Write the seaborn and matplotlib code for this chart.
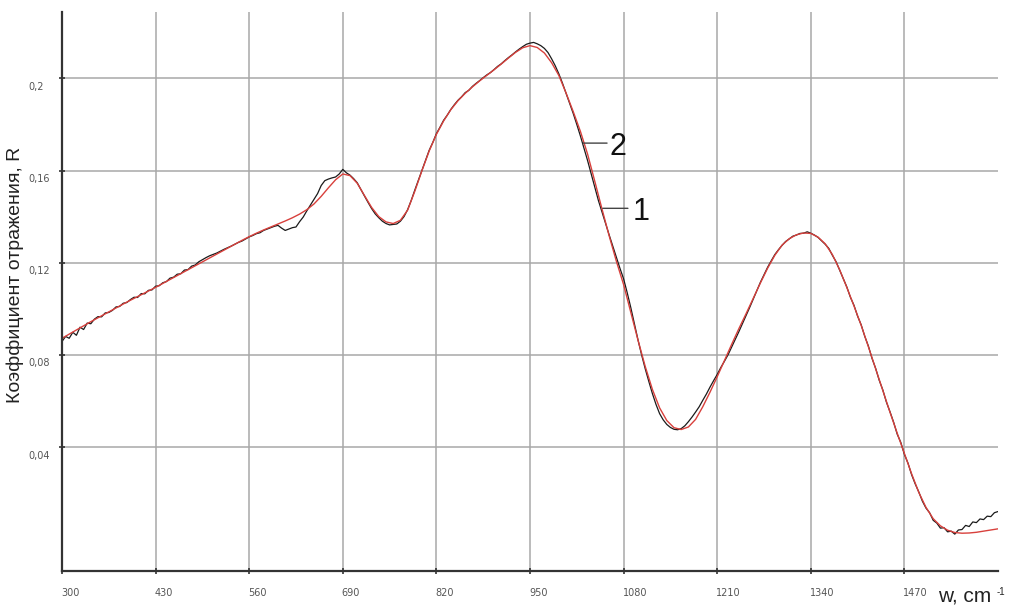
import matplotlib
matplotlib.use("Agg")
import matplotlib.pyplot as plt
import matplotlib.transforms as mtransforms
import pandas as pd
import seaborn as sns

# Calculated reflectance (curve 2), every 10 cm^-1 from 300 to 1600
wavenumber_fit = list(range(300, 1601, 10))
reflect_fit = [
    0.0872, 0.0890, 0.0908, 0.0926, 0.0944, 0.0961, 0.0978, 0.0995, 0.1012, 0.1029,
    0.1045, 0.1061, 0.1077, 0.1093, 0.1110, 0.1127, 0.1144, 0.1161, 0.1178, 0.1195,
    0.1212, 0.1229, 0.1246, 0.1263, 0.1280, 0.1297, 0.1313, 0.1328, 0.1342, 0.1355,
    0.1368, 0.1381, 0.1395, 0.1411, 0.1430, 0.1455, 0.1488, 0.1525, 0.1560, 0.1585,
    0.1578, 0.1545, 0.1492, 0.1440, 0.1400, 0.1377, 0.1370, 0.1384, 0.1428, 0.1510,
    0.1600, 0.1685, 0.1757, 0.1815, 0.1864, 0.1903, 0.1935, 0.1963, 0.1989, 0.2013,
    0.2037, 0.2062, 0.2088, 0.2113, 0.2133, 0.2142, 0.2134, 0.2110, 0.2068, 0.2013,
    0.1937, 0.1856, 0.1770, 0.1671, 0.1553, 0.1433, 0.1316, 0.1206, 0.1105, 0.0985,
    0.0864, 0.0750, 0.0650, 0.0570, 0.0515, 0.0484, 0.0476, 0.0487, 0.0520, 0.0575,
    0.0638, 0.0705, 0.0775, 0.0845, 0.0913, 0.0978, 0.1045, 0.1112, 0.1176, 0.1232,
    0.1276, 0.1304, 0.1321, 0.1329, 0.1327, 0.1311, 0.1282, 0.1235, 0.1170, 0.1093,
    0.1012, 0.0928, 0.0835, 0.0740, 0.0645, 0.0551, 0.0460, 0.0372, 0.0284, 0.0203,
    0.0138, 0.0089, 0.0058, 0.0039, 0.0029, 0.0026, 0.0027, 0.0030, 0.0035, 0.0040,
    0.0045,
]

# Measured reflectance (curve 1), every 5 cm^-1 from 300 to 1600
wavenumber_exp = list(range(300, 1601, 5))
reflect_exp = [
    0.0858, 0.0880, 0.0872, 0.0898, 0.0885, 0.0920, 0.0910, 0.0938, 0.0935, 0.0955,
    0.0966, 0.0965, 0.0982, 0.0984, 0.0993, 0.1008, 0.1010, 0.1024, 0.1027, 0.1040,
    0.1050, 0.1049, 0.1066, 0.1065, 0.1080, 0.1082, 0.1098, 0.1100, 0.1113, 0.1118,
    0.1133, 0.1137, 0.1150, 0.1152, 0.1168, 0.1170, 0.1185, 0.1190, 0.1204, 0.1213,
    0.1222, 0.1230, 0.1236, 0.1242, 0.1250, 0.1258, 0.1265, 0.1272, 0.1280, 0.1288,
    0.1294, 0.1303, 0.1312, 0.1318, 0.1326, 0.1330, 0.1340, 0.1346, 0.1352, 0.1358,
    0.1362, 0.1350, 0.1340, 0.1346, 0.1352, 0.1355, 0.1378, 0.1398, 0.1425, 0.1450,
    0.1475, 0.1500, 0.1535, 0.1556, 0.1563, 0.1568, 0.1572, 0.1585, 0.1605, 0.1590,
    0.1580, 0.1565, 0.1547, 0.1518, 0.1490, 0.1462, 0.1435, 0.1412, 0.1395, 0.1380,
    0.1370, 0.1364, 0.1366, 0.1368, 0.1380, 0.1400, 0.1430, 0.1470, 0.1515, 0.1558,
    0.1602, 0.1645, 0.1688, 0.1722, 0.1760, 0.1788, 0.1818, 0.1840, 0.1865, 0.1886,
    0.1905, 0.1920, 0.1938, 0.1948, 0.1965, 0.1978, 0.1990, 0.2003, 0.2015, 0.2025,
    0.2038, 0.2052, 0.2063, 0.2077, 0.2090, 0.2102, 0.2115, 0.2127, 0.2138, 0.2148,
    0.2153, 0.2156, 0.2150, 0.2142, 0.2130, 0.2112, 0.2085, 0.2055, 0.2020, 0.1980,
    0.1936, 0.1893, 0.1848, 0.1800, 0.1750, 0.1697, 0.1643, 0.1585, 0.1527, 0.1470,
    0.1420, 0.1370, 0.1320, 0.1272, 0.1225, 0.1175, 0.1130, 0.1070, 0.1005, 0.0935,
    0.0865, 0.0800, 0.0740, 0.0685, 0.0632, 0.0585, 0.0545, 0.0518, 0.0498, 0.0485,
    0.0477, 0.0475, 0.0480, 0.0492, 0.0510, 0.0530, 0.0552, 0.0575, 0.0603, 0.0630,
    0.0660, 0.0688, 0.0715, 0.0745, 0.0772, 0.0800, 0.0833, 0.0865, 0.0900, 0.0935,
    0.0970, 0.1005, 0.1042, 0.1080, 0.1115, 0.1148, 0.1180, 0.1208, 0.1235, 0.1256,
    0.1275, 0.1292, 0.1303, 0.1315, 0.1320, 0.1327, 0.1328, 0.1334, 0.1328, 0.1320,
    0.1310, 0.1295, 0.1280, 0.1262, 0.1232, 0.1205, 0.1168, 0.1130, 0.1095, 0.1050,
    0.1015, 0.0968, 0.0930, 0.0880, 0.0838, 0.0785, 0.0742, 0.0690, 0.0648, 0.0595,
    0.0553, 0.0508, 0.0456, 0.0420, 0.0368, 0.0330, 0.0280, 0.0240, 0.0205, 0.0165,
    0.0135, 0.0115, 0.0082, 0.0070, 0.0048, 0.0050, 0.0032, 0.0035, 0.0022, 0.0040,
    0.0042, 0.0060, 0.0055, 0.0075, 0.0072, 0.0088, 0.0085, 0.0100, 0.0098, 0.0115,
    0.0120,
]

x_ticks = [300, 430, 560, 690, 820, 950, 1080, 1210, 1340, 1470]
x_tick_labels = ["300", "430", "560", "690", "820", "950", "1080", "1210", "1340", "1470"]
y_ticks = [0.04, 0.08, 0.12, 0.16, 0.2]
y_tick_labels = ["0,04", "0,08", "0,12", "0,16", "0,2"]

y_title = "Коэффициент отражения, R"
x_title = "w, cm"
x_title_power = "-1"

sns.set_theme(style="white")
plt.rcParams["font.family"] = ["DejaVu Sans"]

W, H = 1009, 606
fig = plt.figure(figsize=(W / 100, H / 100), dpi=100)
ax = fig.add_axes([62 / W, 1 - 571 / H, (998 - 62) / W, (571 - 12) / H])

df_exp = pd.DataFrame({"w": wavenumber_exp, "R": reflect_exp})
df_fit = pd.DataFrame({"w": wavenumber_fit, "R": reflect_fit})
sns.lineplot(data=df_exp, x="w", y="R", color="#1a1a1a", linewidth=0.9, ax=ax)
sns.lineplot(data=df_fit, x="w", y="R", color="#d8403c", linewidth=1.0, ax=ax)

ax.set_xlim(300, 1600)
ax.set_ylim(-0.0138, 0.2288)
ax.set_xticks(x_ticks)
ax.set_yticks(y_ticks)
ax.set_xlabel("")
ax.set_ylabel("")
ax.grid(True, color="#a8a8a8", linewidth=1.1)
ax.set_axisbelow(True)
ax.tick_params(labelbottom=False, labelleft=False, direction="inout",
               length=5, width=1.2, color="#333333", bottom=True, left=True)
sns.despine(ax=ax)
for side in ("left", "bottom"):
    ax.spines[side].set_color("#333333")
    ax.spines[side].set_linewidth(1.6)

# tick labels: left-aligned, set below/right of their grid lines
tick_kw = dict(fontsize=7, color="#555555", ha="left", va="top")
off_x = mtransforms.ScaledTranslation(-1 / 100, -17 / 100, fig.dpi_scale_trans)
for v, lab in zip(x_ticks, x_tick_labels):
    ax.text(v, 0, lab, transform=ax.get_xaxis_transform() + off_x, **tick_kw)
off_y = mtransforms.ScaledTranslation(-34 / 100, -3.5 / 100, fig.dpi_scale_trans)
for v, lab in zip(y_ticks, y_tick_labels):
    ax.text(0, v, lab, transform=ax.get_yaxis_transform() + off_y, **tick_kw)

# axis titles
fig.text(15.5 / W, 1 - 275 / H, y_title, rotation=90, ha="center", va="center",
         fontsize=14, color="#222222", family="Liberation Sans")
fig.text(938 / W, 1 - 601 / H, x_title, ha="left", va="baseline",
         fontsize=15, color="#222222", family="Liberation Sans")
fig.text(997 / W, 1 - 595 / H, x_title_power, ha="left", va="baseline",
         fontsize=7, color="#222222", family="Liberation Sans")

# curve numbers with leader lines
lead_kw = dict(arrowprops=dict(arrowstyle="-", color="#444444", lw=1.0,
                               shrinkA=0, shrinkB=0))
ax.annotate("", xy=(1024, 0.1719), xytext=(1057, 0.1719), **lead_kw)
ax.text(1061, 0.1668, "2", fontsize=22, ha="left", va="baseline",
        color="#111111", family="Liberation Sans")
ax.annotate("", xy=(1051, 0.1436), xytext=(1086, 0.1436), **lead_kw)
ax.text(1092, 0.1385, "1", fontsize=22, ha="left", va="baseline",
        color="#111111", family="Liberation Sans")

fig.savefig("out.png", dpi=100)
